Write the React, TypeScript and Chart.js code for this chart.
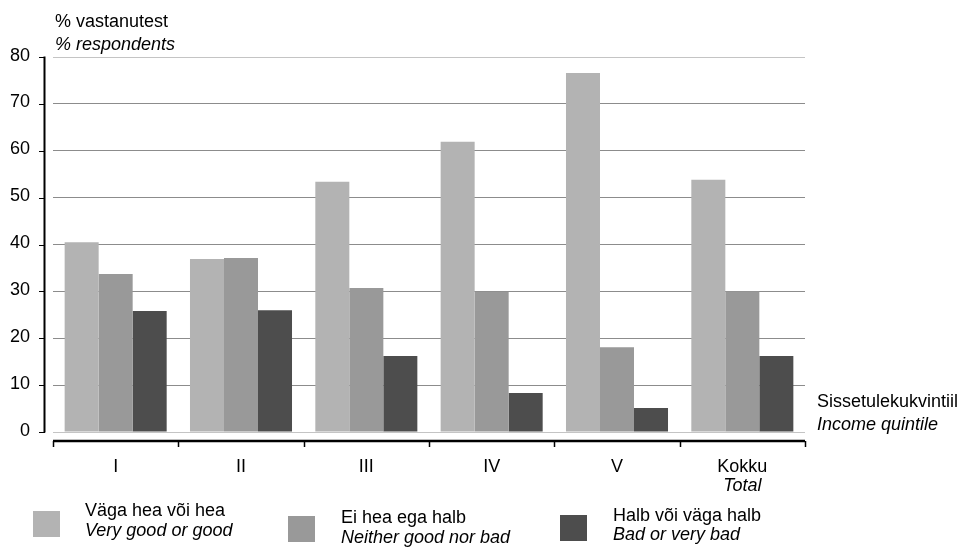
import React, { useEffect, useRef } from 'react';
import { Chart, registerables } from 'chart.js';

Chart.register(...registerables);

const categories = ['I', 'II', 'III', 'IV', 'V', 'Kokku'];
const categoryNotes = ['', '', '', '', '', 'Total'];
const veryGood = [40.5, 36.9, 53.4, 61.9, 76.6, 53.8];
const neither = [33.7, 37.1, 30.7, 29.9, 18.1, 30.0];
const bad = [25.8, 26.0, 16.2, 8.3, 5.1, 16.2];
const seriesNames = ['Väga hea või hea', 'Ei hea ega halb', 'Halb või väga halb'];
const seriesNamesEn = ['Very good or good', 'Neither good nor bad', 'Bad or very bad'];
const yTicks = [0, 10, 20, 30, 40, 50, 60, 70, 80];
const yTitle = ['% vastanutest', '% respondents'];
const xTitle = ['Sissetulekukvintiil', 'Income quintile'];

const colors = ['#b3b3b3', '#999999', '#4d4d4d'];
const FONT = '"Liberation Sans", Arial, Helvetica, sans-serif';

// legend layout: [squareX, squareY, textX, baseline1, baseline2]
const legendLayout = [
  [33, 511, 85, 516, 536],
  [288, 516, 341, 523, 543],
  [560, 515, 613, 521, 540],
];

const decor = {
  id: 'decor',
  afterDraw(chart: any) {
    const ctx = chart.ctx as CanvasRenderingContext2D;
    const ys = chart.scales.y;
    const xs = chart.scales.x;
    const area = chart.chartArea;
    ctx.save();
    ctx.strokeStyle = '#000';
    ctx.fillStyle = '#000';

    // y axis line
    ctx.lineWidth = 2;
    ctx.beginPath();
    ctx.moveTo(44.5, ys.getPixelForValue(yTicks[yTicks.length - 1]) - 0.5);
    ctx.lineTo(44.5, ys.getPixelForValue(0) + 0.5);
    ctx.stroke();
    ctx.lineWidth = 1;
    yTicks.forEach((v) => {
      const py = Math.round(ys.getPixelForValue(v)) + 0.5;
      ctx.beginPath();
      ctx.moveTo(39, py);
      ctx.lineTo(45, py);
      ctx.stroke();
    });
    ctx.font = `18px ${FONT}`;
    ctx.textAlign = 'right';
    ctx.textBaseline = 'alphabetic';
    yTicks.forEach((v) => {
      ctx.fillText(String(v), 30, ys.getPixelForValue(v) + 3.5);
    });

    // x axis line
    const axY = 441;
    ctx.lineWidth = 2.5;
    ctx.beginPath();
    ctx.moveTo(area.left, axY);
    ctx.lineTo(area.right, axY);
    ctx.stroke();
    ctx.lineWidth = 1.5;
    const bounds: number[] = [area.left];
    for (let i = 1; i < categories.length; i++) {
      bounds.push((xs.getPixelForValue(i - 1) + xs.getPixelForValue(i)) / 2);
    }
    bounds.push(area.right);
    bounds.forEach((bx) => {
      const px = Math.round(bx) + 0.5;
      ctx.beginPath();
      ctx.moveTo(px, axY);
      ctx.lineTo(px, axY + 6);
      ctx.stroke();
    });

    // category labels
    ctx.textAlign = 'center';
    categories.forEach((c, i) => {
      const cx = xs.getPixelForValue(i);
      ctx.font = `18px ${FONT}`;
      ctx.fillText(c, cx, 472);
      if (categoryNotes[i]) {
        ctx.font = `italic 18px ${FONT}`;
        ctx.fillText(categoryNotes[i], cx, 491);
      }
    });

    // axis titles
    ctx.textAlign = 'left';
    ctx.font = `18px ${FONT}`;
    ctx.fillText(yTitle[0], 55, 26.5);
    ctx.font = `italic 18px ${FONT}`;
    ctx.fillText(yTitle[1], 55, 50);
    ctx.font = `18px ${FONT}`;
    ctx.fillText(xTitle[0], 817, 406.5);
    ctx.font = `italic 18px ${FONT}`;
    ctx.fillText(xTitle[1], 817, 430);

    // legend
    chart.data.datasets.forEach((ds: any, i: number) => {
      const [sx, sy, tx, b1, b2] = legendLayout[i];
      ctx.fillStyle = ds.backgroundColor;
      ctx.fillRect(sx, sy, 27, 26);
      ctx.fillStyle = '#000';
      ctx.font = `18px ${FONT}`;
      ctx.fillText(seriesNames[i], tx, b1);
      ctx.font = `italic 18px ${FONT}`;
      ctx.fillText(seriesNamesEn[i], tx, b2);
    });

    ctx.restore();
  },
};

export default function App() {
  const ref = useRef<HTMLCanvasElement | null>(null);

  useEffect(() => {
    if (!ref.current) return;
    const chart = new Chart(ref.current, {
      type: 'bar',
      data: {
        labels: categories,
        datasets: [
          { label: seriesNames[0], data: veryGood, backgroundColor: colors[0] },
          { label: seriesNames[1], data: neither, backgroundColor: colors[1] },
          { label: seriesNames[2], data: bad, backgroundColor: colors[2] },
        ],
      },
      options: {
        responsive: false,
        animation: false,
        layout: { padding: { left: 53, right: 153, top: 57, bottom: 115 } },
        datasets: {
          bar: { barPercentage: 1, categoryPercentage: 0.814, borderWidth: 0 },
        },
        plugins: {
          legend: { display: false },
          tooltip: { enabled: false },
          title: { display: false },
        },
        scales: {
          x: {
            type: 'category',
            display: false,
            offset: true,
            grid: { display: false },
          },
          y: {
            min: 0,
            max: 80,
            display: true,
            ticks: { display: false, stepSize: 10 },
            border: { display: false },
            grid: {
              drawTicks: false,
              lineWidth: 1,
              color: (c: any) =>
                c.tick && (c.tick.value === 0 || c.tick.value === 80) ? '#c4c4c4' : '#8c8c8c',
            },
          },
        },
      },
      plugins: [decor],
    });
    return () => chart.destroy();
  }, []);

  return (
    <div style={{ position: 'fixed', left: 0, top: 0, width: 958, height: 547, background: '#fff' }}>
      <canvas ref={ref} width={958} height={547} style={{ display: 'block' }} />
    </div>
  );
}
